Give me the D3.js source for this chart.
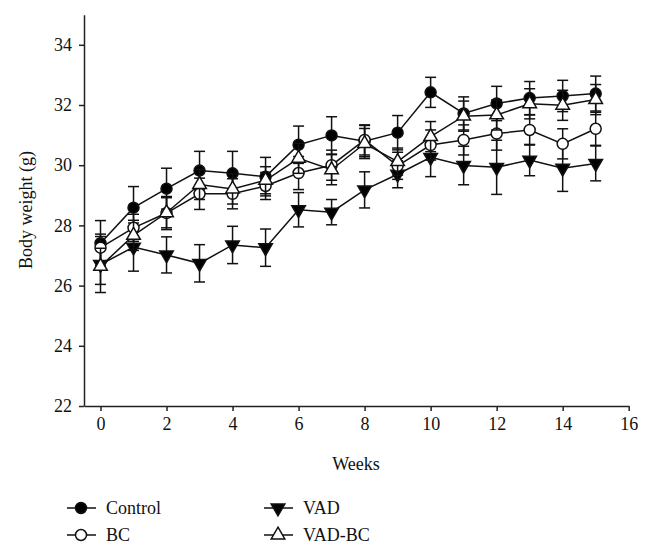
<!DOCTYPE html>
<html>
<head>
<meta charset="utf-8">
<script src="https://cdn.jsdelivr.net/npm/d3@7"></script>
<style>
  html, body { margin: 0; padding: 0; background: #fff; }
  svg { display: block; }
  text { font-family: "Liberation Serif", "DejaVu Serif", serif; fill: #111; }
</style>
</head>
<body>
<svg id="chart" width="653" height="554"></svg>
<script>
const weeks = [0, 1, 2, 3, 4, 5, 6, 7, 8, 9, 10, 11, 12, 13, 14, 15];
const control   = [27.41, 28.59, 29.22, 29.82, 29.73, 29.62, 30.68, 30.99, 30.80, 31.08, 32.42, 31.72, 32.05, 32.23, 32.30, 32.38];
const controlSE = [0.75, 0.70, 0.68, 0.64, 0.73, 0.64, 0.62, 0.62, 0.52, 0.57, 0.50, 0.55, 0.57, 0.55, 0.52, 0.58];
const bc        = [27.26, 27.92, 28.41, 29.05, 29.05, 29.31, 29.74, 30.00, 30.84, 29.98, 30.67, 30.84, 31.05, 31.17, 30.71, 31.21];
const bcSE      = [0.45, 0.45, 0.55, 0.52, 0.50, 0.45, 0.55, 0.50, 0.50, 0.45, 0.50, 0.50, 0.55, 0.50, 0.50, 0.55];
const vad       = [26.70, 27.28, 27.02, 26.74, 27.35, 27.26, 28.52, 28.44, 29.18, 29.70, 30.26, 29.99, 29.93, 30.17, 29.90, 30.06];
const vadSE     = [0.93, 0.80, 0.60, 0.62, 0.62, 0.62, 0.57, 0.42, 0.60, 0.45, 0.64, 0.64, 0.90, 0.52, 0.77, 0.58];
const vadbc     = [26.64, 27.67, 28.42, 29.36, 29.21, 29.50, 30.23, 29.85, 30.72, 30.12, 30.95, 31.63, 31.67, 32.04, 31.99, 32.18];
const vadbcSE   = [0.60, 0.50, 0.50, 0.50, 0.50, 0.45, 0.50, 0.50, 0.50, 0.45, 0.50, 0.50, 0.50, 0.50, 0.50, 0.50];

const xTicks = [0, 2, 4, 6, 8, 10, 12, 14, 16];
const yTicks = [22, 24, 26, 28, 30, 32, 34];
const seriesNames = ["Control", "BC", "VAD", "VAD-BC"];

const series = [
  { name: seriesNames[0], values: control, se: controlSE, shape: "circle", fill: "#000" },
  { name: seriesNames[2], values: vad, se: vadSE, shape: "down", fill: "#000" },
  { name: seriesNames[1], values: bc, se: bcSE, shape: "circle", fill: "#fff" },
  { name: seriesNames[3], values: vadbc, se: vadbcSE, shape: "up", fill: "#fff" }
];

const svg = d3.select("#chart");
const x = d3.scaleLinear().domain([-0.5, 16]).range([84, 628.7]);
const y = d3.scaleLinear().domain([22, 35]).range([406, 14.7]);

// axes
const yAxis = svg.append("g").attr("transform", "translate(84,0)")
  .call(d3.axisLeft(y).tickValues(yTicks).tickFormat(d3.format("d")).tickSize(5).tickSizeOuter(0).tickPadding(7));
const xAxis = svg.append("g").attr("transform", "translate(0,406)")
  .call(d3.axisBottom(x).tickValues(xTicks).tickFormat(d3.format("d")).tickSize(5).tickSizeOuter(0).tickPadding(6));
[yAxis, xAxis].forEach(a => {
  a.selectAll("path, line").attr("stroke", "#222").attr("stroke-width", 1.5);
  a.selectAll("text").style("font-size", "18px").style("font-family", "'Liberation Serif', serif").attr("fill", "#111");
});

// labels
svg.append("text").attr("x", 356).attr("y", 470).attr("text-anchor", "middle")
  .style("font-size", "18px").text("Weeks");
svg.append("text").attr("transform", "translate(32,210) rotate(-90)").attr("text-anchor", "middle")
  .style("font-size", "18px").text("Body weight (g)");

function symbolPath(shape) {
  if (shape === "circle") return d3.symbol().type(d3.symbolCircle).size(Math.PI * 5.5 * 5.5)();
  return d3.symbol().type(d3.symbolTriangle).size(80)();
}
function symbolTransform(shape, cx, cy) {
  return shape === "down" ? `translate(${cx},${cy}) rotate(180)` : `translate(${cx},${cy})`;
}

const line = d3.line().x((d, i) => x(weeks[i])).y(d => y(d));
const cap = 5.5;

series.forEach(s => {
  const g = svg.append("g");
  // error bars
  const eb = g.append("g").attr("stroke", "#111").attr("stroke-width", 1.5);
  s.values.forEach((v, i) => {
    const cx = x(weeks[i]), top = y(v + s.se[i]), bot = y(v - s.se[i]);
    eb.append("line").attr("x1", cx).attr("x2", cx).attr("y1", top).attr("y2", bot);
    eb.append("line").attr("x1", cx - cap).attr("x2", cx + cap).attr("y1", top).attr("y2", top);
    eb.append("line").attr("x1", cx - cap).attr("x2", cx + cap).attr("y1", bot).attr("y2", bot);
  });
  g.append("path").attr("d", line(s.values)).attr("fill", "none").attr("stroke", "#111").attr("stroke-width", 1.5);
  g.selectAll("path.m").data(s.values).enter().append("path").attr("class", "m")
    .attr("d", symbolPath(s.shape))
    .attr("transform", (d, i) => symbolTransform(s.shape, x(weeks[i]), y(d)))
    .attr("fill", s.fill).attr("stroke", "#111").attr("stroke-width", 1.5);
});

// legend
const legendItems = [
  { name: seriesNames[0], shape: "circle", fill: "#000", lx: 67, ly: 508 },
  { name: seriesNames[1], shape: "circle", fill: "#fff", lx: 67, ly: 535 },
  { name: seriesNames[2], shape: "down", fill: "#000", lx: 264, ly: 508 },
  { name: seriesNames[3], shape: "up", fill: "#fff", lx: 264, ly: 535 }
];
legendItems.forEach(it => {
  const g = svg.append("g");
  g.append("line").attr("x1", it.lx).attr("x2", it.lx + 29).attr("y1", it.ly).attr("y2", it.ly)
    .attr("stroke", "#111").attr("stroke-width", 1.5);
  g.append("path").attr("d", symbolPath(it.shape))
    .attr("transform", symbolTransform(it.shape, it.lx + 14, it.ly))
    .attr("fill", it.fill).attr("stroke", "#111").attr("stroke-width", 1.5);
  g.append("text").attr("x", it.lx + 39).attr("y", it.ly).attr("dy", "0.33em")
    .style("font-size", "18px").text(it.name);
});
</script>
</body>
</html>
